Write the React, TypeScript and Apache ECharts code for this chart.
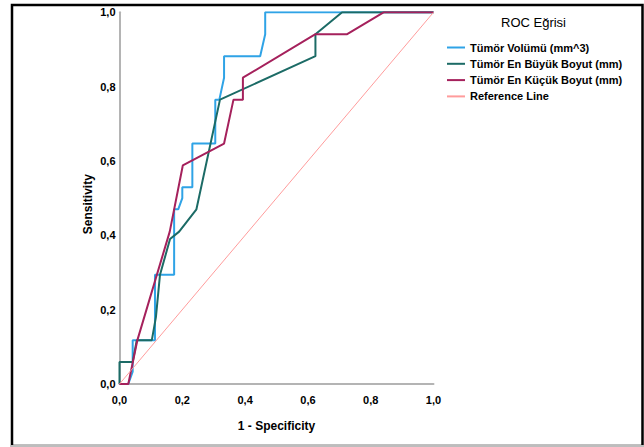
import React, { useEffect, useRef } from "react";
import * as echarts from "echarts";

// 1 - Specificity (x) and Sensitivity (y)
const volumeX = [0, 0.028, 0.042, 0.042, 0.113, 0.113, 0.174, 0.174, 0.187, 0.2, 0.2, 0.232, 0.232, 0.305, 0.305, 0.318, 0.333, 0.333, 0.448, 0.464, 0.464, 1];
const volumeY = [0, 0, 0.033, 0.118, 0.118, 0.294, 0.294, 0.47, 0.47, 0.5, 0.529, 0.529, 0.647, 0.647, 0.765, 0.765, 0.824, 0.882, 0.882, 0.941, 1, 1];

const largestX = [0, 0, 0.042, 0.055, 0.103, 0.116, 0.129, 0.161, 0.19, 0.245, 0.32, 0.624, 0.624, 0.709, 1];
const largestY = [0, 0.059, 0.059, 0.118, 0.118, 0.18, 0.294, 0.39, 0.41, 0.47, 0.765, 0.882, 0.941, 1, 1];

const smallestX = [0, 0.028, 0.057, 0.16, 0.2016, 0.333, 0.363, 0.393, 0.393, 0.624, 0.725, 0.841, 1];
const smallestY = [0, 0, 0.118, 0.41, 0.588, 0.647, 0.765, 0.765, 0.824, 0.941, 0.941, 1, 1];

const referenceX = [0, 1];
const referenceY = [0, 1];

const seriesNames = [
  "Tümör Volümü (mm^3)",
  "Tümör En Büyük Boyut (mm)",
  "Tümör En Küçük Boyut (mm)",
  "Reference Line",
];
const seriesColors = ["#2fa3e6", "#1c6b66", "#a5215c", "#ff9c9c"];

const pairs = (xs: number[], ys: number[]) => xs.map((x, i) => [x, ys[i]]);

const FONT = "'Liberation Sans', Arial, sans-serif";

export default function App() {
  const ref = useRef<HTMLDivElement>(null);
  useEffect(() => {
    if (!ref.current) return;
    const chart = echarts.init(ref.current, undefined, { renderer: "svg" });
    const fmt = (v: number) => v.toFixed(1).replace(".", ",");
    const datasets = [
      pairs(volumeX, volumeY),
      pairs(largestX, largestY),
      pairs(smallestX, smallestY),
      pairs(referenceX, referenceY),
    ];
    chart.setOption({
      animation: false,
      backgroundColor: "#ffffff",
      textStyle: { fontFamily: FONT },
      title: {
        text: "ROC Eğrisi",
        left: 501,
        top: 16,
        padding: 0,
        textStyle: { fontSize: 13, fontWeight: "normal", color: "#000", fontFamily: FONT },
      },
      legend: {
        orient: "vertical",
        left: 447,
        top: 42,
        padding: 0,
        itemWidth: 18,
        itemHeight: 2,
        itemGap: 5.3,
        icon: "rect",
        data: seriesNames,
        textStyle: { fontSize: 11, fontWeight: "bold", color: "#000", fontFamily: FONT },
      },
      grid: { left: 119.5, right: 210.5, top: 12.3, bottom: 63, containLabel: false },
      xAxis: {
        type: "value",
        min: 0,
        max: 1,
        interval: 0.2,
        name: "1 - Specificity",
        nameLocation: "middle",
        nameGap: 36,
        nameTextStyle: { fontSize: 12, fontWeight: "bold", color: "#000", fontFamily: FONT },
        axisLine: { show: true, lineStyle: { color: "#b4b4b4", width: 2 } },
        axisTick: { show: false },
        splitLine: { show: false },
        axisLabel: { formatter: fmt, fontSize: 11, fontWeight: "bold", color: "#000", margin: 10, fontFamily: FONT },
      },
      yAxis: {
        type: "value",
        min: 0,
        max: 1,
        interval: 0.2,
        name: "Sensitivity",
        nameLocation: "middle",
        nameGap: 26,
        nameTextStyle: { fontSize: 12, fontWeight: "bold", color: "#000", fontFamily: FONT, padding: [0, 12, 0, 0] },
        axisLine: { show: true, lineStyle: { color: "#b4b4b4", width: 2 } },
        axisTick: { show: false },
        splitLine: { show: false },
        axisLabel: { formatter: fmt, fontSize: 11, fontWeight: "bold", color: "#000", margin: 4, fontFamily: FONT },
      },
      graphic: [
        {
          type: "rect",
          silent: true,
          shape: { x: 12, y: 5, width: 630.5, height: 441 },
          style: { fill: "none", stroke: "#000", lineWidth: 2.5 },
        },
        {
          type: "line",
          silent: true,
          shape: { x1: 11, y1: 446, x2: 644, y2: 446 },
          style: { stroke: "#bdbdbd", lineWidth: 2 },
        },
      ],
      series: datasets.map((d, i) => ({
        name: seriesNames[i],
        type: "line",
        data: d,
        symbol: "none",
        showSymbol: false,
        color: seriesColors[i],
        lineStyle: { color: seriesColors[i], width: i === 3 ? 1 : 2 },
      })),
    });
    return () => chart.dispose();
  }, []);
  return (
    <div
      ref={ref}
      style={{ position: "absolute", left: 0, top: 0, width: 644, height: 447 }}
    />
  );
}
